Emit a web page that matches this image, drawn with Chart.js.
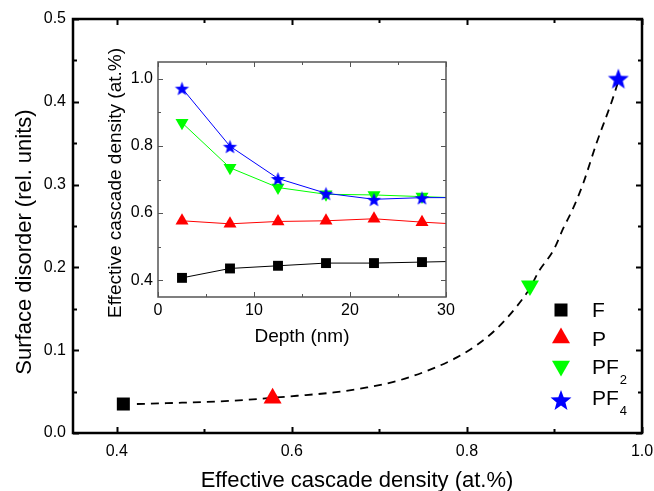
<!DOCTYPE html>
<html>
<head>
<meta charset="utf-8">
<script src="https://cdn.jsdelivr.net/npm/chart.js@4"></script>
<style>
  html, body { margin: 0; padding: 0; background: #fff; }
  #wrap { position: relative; width: 654px; height: 491px; }
  #main { position: absolute; left: 0; top: 0; }
  #inset { position: absolute; left: 80px; top: 40px; }
</style>
</head>
<body>
<div id="wrap">
  <canvas id="main" width="654" height="491"></canvas>
  <canvas id="inset" width="380" height="310"></canvas>
</div>
<script>
// main plot: surface disorder vs effective cascade density
const samples = ['F', 'P', 'PF2', 'PF4'];
const densityX = [0.4075, 0.578, 0.872, 0.973];
const disorderY = [0.035, 0.042, 0.178, 0.428];

// dashed guide curve
const fitX = [0.423, 0.457, 0.533, 0.606, 0.648, 0.686, 0.724, 0.766, 0.788, 0.811, 0.834, 0.857, 0.872, 0.882, 0.899, 0.910, 0.922, 0.933, 0.948, 0.966, 0.973];
const fitY = [0.035, 0.036, 0.039, 0.045, 0.049, 0.055, 0.064, 0.080, 0.091, 0.106, 0.126, 0.153, 0.175, 0.195, 0.221, 0.247, 0.273, 0.302, 0.350, 0.402, 0.425];

// inset: density profile vs depth
const depth = [2.5, 7.5, 12.5, 17.5, 22.5, 27.5, 32.5];
const densF = [0.407, 0.435, 0.443, 0.451, 0.451, 0.454, 0.457];
const densP = [0.577, 0.568, 0.575, 0.577, 0.583, 0.573, 0.565];
const densPF2 = [0.869, 0.735, 0.676, 0.656, 0.654, 0.649, 0.644];
const densPF4 = [0.972, 0.799, 0.703, 0.659, 0.641, 0.646, 0.646];

// ticks
const mainXTicks = [0.4, 0.6, 0.8, 1.0];
const mainXMinor = [0.5, 0.7, 0.9];
const mainYTicks = [0, 0.1, 0.2, 0.3, 0.4, 0.5];
const mainYMinor = [0.05, 0.15, 0.25, 0.35, 0.45];
const insetXTicks = [0, 10, 20, 30];
const insetXMinor = [5, 15, 25];
const insetYTicks = [0.4, 0.6, 0.8, 1.0];
const insetYMinor = [0.5, 0.7, 0.9];

const FONT = 'Liberation Sans, Arial, sans-serif';
Chart.defaults.font.family = FONT;
Chart.defaults.color = '#000';

function starImage(r, color) {
  const s = Math.ceil(2 * r + 2);
  const c = document.createElement('canvas');
  c.width = s; c.height = s;
  const g = c.getContext('2d');
  g.fillStyle = color;
  g.beginPath();
  for (let i = 0; i < 10; i++) {
    const rr = i % 2 ? r * 0.42 : r;
    const a = -Math.PI / 2 + i * Math.PI / 5;
    const px = s / 2 + rr * Math.cos(a), py = s / 2 + 1 + rr * Math.sin(a);
    if (i) g.lineTo(px, py); else g.moveTo(px, py);
  }
  g.closePath();
  g.fill();
  return c;
}
const bigStar = starImage(11, '#0000ff');
const smallStar = starImage(7.5, '#0000ff');

// frame with inward ticks on all sides, then axis titles and legend
function makeDecor(name, cfg, items, legend) {
  return {
    id: 'decor' + name,
    afterDraw(chart) {
      const ctx = chart.ctx, a = chart.chartArea;
      const x = chart.scales.x, y = chart.scales.y;
      ctx.save();
      ctx.setLineDash([]);
      ctx.strokeStyle = cfg.color;
      ctx.lineWidth = cfg.width;
      ctx.strokeRect(a.left, a.top, a.right - a.left, a.bottom - a.top);
      ctx.lineWidth = cfg.tickWidth;
      ctx.beginPath();
      const tx = (vals, len) => vals.forEach(v => {
        const p = Math.round(x.getPixelForValue(v)) + 0.5;
        ctx.moveTo(p, a.bottom); ctx.lineTo(p, a.bottom - len);
        ctx.moveTo(p, a.top); ctx.lineTo(p, a.top + len);
      });
      const ty = (vals, len) => vals.forEach(v => {
        const p = Math.round(y.getPixelForValue(v)) + 0.5;
        ctx.moveTo(a.left, p); ctx.lineTo(a.left + len, p);
        ctx.moveTo(a.right, p); ctx.lineTo(a.right - len, p);
      });
      tx(cfg.xMajor, cfg.major); tx(cfg.xMinor, cfg.minor);
      ty(cfg.yMajor, cfg.major); ty(cfg.yMinor, cfg.minor);
      ctx.stroke();

      ctx.fillStyle = '#000';
      items.forEach(t => {
        ctx.save();
        ctx.font = t.size + 'px ' + FONT;
        ctx.textAlign = 'center';
        ctx.textBaseline = 'alphabetic';
        ctx.translate(t.x, t.y);
        if (t.rot) ctx.rotate(t.rot);
        ctx.fillText(t.text, 0, 0);
        ctx.restore();
      });
      (legend || []).forEach(l => {
        ctx.fillStyle = l.color;
        ctx.beginPath();
        const mx = 561, my = l.my;
        if (l.shape === 'rect') {
          ctx.fillRect(mx - 6.5, my - 6.5, 13, 13);
        } else if (l.shape === 'up') {
          ctx.moveTo(mx, my - 10.4); ctx.lineTo(mx + 9, my + 5.2); ctx.lineTo(mx - 9, my + 5.2);
          ctx.closePath(); ctx.fill();
        } else if (l.shape === 'down') {
          ctx.moveTo(mx, my + 10.4); ctx.lineTo(mx + 9, my - 5.2); ctx.lineTo(mx - 9, my - 5.2);
          ctx.closePath(); ctx.fill();
        } else {
          ctx.drawImage(bigStar, mx - bigStar.width / 2, my - bigStar.height / 2);
        }
        ctx.fillStyle = '#000';
        ctx.textAlign = 'left';
        ctx.textBaseline = 'alphabetic';
        ctx.font = '21px ' + FONT;
        ctx.fillText(l.text, 592, l.ty);
        if (l.sub) {
          const w = ctx.measureText(l.text).width;
          ctx.font = '13px ' + FONT;
          ctx.fillText(l.sub, 592 + w + 1, l.ty + 10);
        }
      });
      ctx.restore();
    }
  };
}

function setTicks(vals) {
  return s => { s.ticks = vals.map(v => ({ value: v })); };
}
function fixW(w) {
  return s => { s.width = w; s.paddingTop = 0; s.paddingBottom = 0; };
}
function fixH(h) {
  return s => { s.height = h; s.paddingLeft = 0; s.paddingRight = 0; };
}

const pts = (xs, ys) => xs.map((v, i) => ({ x: v, y: ys[i] }));

const marker = i => ({
  label: samples[i],
  data: [{ x: densityX[i], y: disorderY[i] }],
  showLine: false,
  borderWidth: 0,
  pointBorderWidth: 0,
  clip: false
});

new Chart(document.getElementById('main'), {
  type: 'scatter',
  data: {
    datasets: [
      Object.assign(marker(3), { pointStyle: bigStar, pointRadius: 11, backgroundColor: '#0000ff' }),
      Object.assign(marker(2), { pointStyle: 'triangle', rotation: 180, pointRadius: 10.4, backgroundColor: '#00ff00' }),
      Object.assign(marker(1), { pointStyle: 'triangle', pointRadius: 10.4, backgroundColor: '#ff0000' }),
      Object.assign(marker(0), { pointStyle: 'rect', pointRadius: 9.2, backgroundColor: '#000' }),
      {
        label: 'fit',
        data: pts(fitX, fitY),
        showLine: true,
        borderColor: '#000',
        borderWidth: 1.8,
        borderDash: [8, 6],
        pointRadius: 0,
        cubicInterpolationMode: 'monotone'
      }
    ]
  },
  options: {
    responsive: false,
    animation: false,
    events: [],
    layout: { padding: { left: 0, top: 19, right: 12, bottom: 0 } },
    scales: {
      x: {
        type: 'linear', min: 0.35, max: 1.0,
        afterFit: fixH(58),
        afterBuildTicks: setTicks(mainXTicks),
        grid: { display: false, drawTicks: false },
        border: { display: false },
        ticks: { padding: 9, font: { size: 16 }, color: '#000', callback: v => v.toFixed(1) }
      },
      y: {
        type: 'linear', min: 0, max: 0.5,
        afterFit: fixW(73),
        afterBuildTicks: setTicks(mainYTicks),
        grid: { display: false, drawTicks: false },
        border: { display: false },
        ticks: { padding: 7, font: { size: 16 }, color: '#000', callback: v => v.toFixed(1) }
      }
    },
    plugins: { legend: { display: false }, tooltip: { enabled: false } }
  },
  plugins: [
    makeDecor('main',
      { color: '#000', width: 2.5, tickWidth: 2, major: 6, minor: 4,
        xMajor: mainXTicks, xMinor: mainXMinor, yMajor: mainYTicks, yMinor: mainYMinor },
      [
        { text: 'Effective cascade density (at.%)', x: 357, y: 487, size: 22 },
        { text: 'Surface disorder (rel. units)', x: 31, y: 242, size: 22, rot: -Math.PI / 2 }
      ],
      [
        { shape: 'rect', color: '#000', my: 310, text: 'F', ty: 317 },
        { shape: 'up', color: '#ff0000', my: 338, text: 'P', ty: 346 },
        { shape: 'down', color: '#00ff00', my: 366, text: 'PF', sub: '2', ty: 374 },
        { shape: 'star', color: '#0000ff', my: 400, text: 'PF', sub: '4', ty: 405 }
      ])
  ]
});

const line = (label, ys, color, style, r, extra) => Object.assign({
  label: label,
  data: pts(depth, ys),
  showLine: true,
  borderColor: color,
  borderWidth: 1,
  backgroundColor: color,
  pointBackgroundColor: color,
  pointBorderWidth: 0,
  pointStyle: style,
  pointRadius: r,
  clip: 0
}, extra || {});

new Chart(document.getElementById('inset'), {
  type: 'scatter',
  data: {
    datasets: [
      line('PF4', densPF4, '#0000ff', smallStar, 7.5),
      line('PF2', densPF2, '#00ff00', 'triangle', 7.5, { rotation: 180 }),
      line('P', densP, '#ff0000', 'triangle', 7.5),
      line('F', densF, '#000000', 'rect', 7)
    ]
  },
  options: {
    responsive: false,
    animation: false,
    events: [],
    layout: { padding: { left: 0, top: 22, right: 14, bottom: 0 } },
    scales: {
      x: {
        type: 'linear', min: 0, max: 30,
        afterFit: fixH(53),
        afterBuildTicks: setTicks(insetXTicks),
        grid: { display: false, drawTicks: false },
        border: { display: false },
        ticks: { padding: 4, font: { size: 16 }, color: '#000', callback: v => String(v) }
      },
      y: {
        type: 'linear', min: 0.35, max: 1.05,
        afterFit: fixW(78),
        afterBuildTicks: setTicks(insetYTicks),
        grid: { display: false, drawTicks: false },
        border: { display: false },
        ticks: { padding: 5, font: { size: 16 }, color: '#000', callback: v => v.toFixed(1) }
      }
    },
    plugins: { legend: { display: false }, tooltip: { enabled: false } }
  },
  plugins: [
    makeDecor('inset',
      { color: '#555', width: 1.5, tickWidth: 1, major: 5, minor: 3,
        xMajor: insetXTicks, xMinor: insetXMinor, yMajor: insetYTicks, yMinor: insetYMinor },
      [
        { text: 'Depth (nm)', x: 222, y: 302, size: 19 },
        { text: 'Effective cascade density (at.%)', x: 41, y: 143, size: 19, rot: -Math.PI / 2 }
      ])
  ]
});
</script>
</body>
</html>
